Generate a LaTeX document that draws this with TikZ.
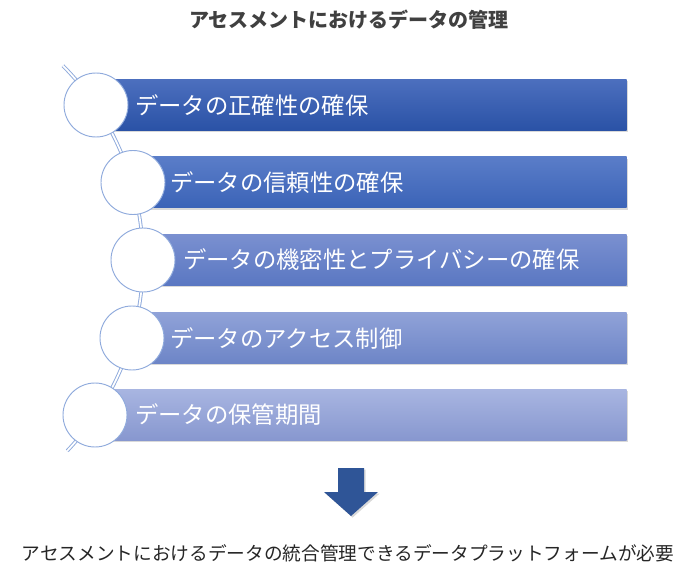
\documentclass[tikz,border=0pt]{standalone}
\usepackage{fontspec}
\setmainfont{Noto Sans CJK JP}
\usepackage{xcolor}
\usetikzlibrary{shadows}

\definecolor{spineblue}{HTML}{8FAADC}
\definecolor{titlegray}{HTML}{404040}
\definecolor{arrowblue}{HTML}{2F5597}
\definecolor{barAtop}{HTML}{4C6FBE}
\definecolor{barAbot}{HTML}{2A52A6}
\definecolor{barBtop}{HTML}{5A7DC8}
\definecolor{barBbot}{HTML}{3B63B7}
\definecolor{barCtop}{HTML}{7A90D0}
\definecolor{barCbot}{HTML}{5A77C2}
\definecolor{barDtop}{HTML}{90A2D8}
\definecolor{barDbot}{HTML}{6D85C7}
\definecolor{barEtop}{HTML}{A8B5E1}
\definecolor{barEbot}{HTML}{8797CF}

\begin{document}
\begin{tikzpicture}[x=0.75pt, y=-0.75pt]
\tikzstyle{bar} = [rectangle, inner sep=0pt, minimum height=38.25pt, drop shadow={opacity=0.3, shadow xshift=1.2pt, shadow yshift=-1.2pt}]
\tikzstyle{disc} = [circle, draw=spineblue, line width=0.7pt, fill=white, minimum size=48pt, inner sep=0pt]
\tikzstyle{bartext} = [text=white, font=\fontsize{17.5}{20}\selectfont, anchor=west, inner sep=0pt]
\tikzstyle{spine} = [draw=spineblue, double=white, line width=0.7pt, double distance=1.3pt]

\useasboundingbox (0,0) rectangle (697,574);

\node[font=\bfseries\fontsize{15}{18}\selectfont, text=titlegray] (title) at (349,20) {アセスメントにおけるデータの管理};

% spine behind the circles
\coordinate (hub) at (-134,260.5);
\draw[spine] (hub) ++(-44.7:277) arc[start angle=-44.7, end angle=43.4, radius=277];

\foreach \cy/\cx/\tx/\ctop/\cbot/\txt [count=\i] in {
  105/96/135/barAtop/barAbot/データの正確性の確保,
  182.5/133/170/barBtop/barBbot/データの信頼性の確保,
  260/143/183/barCtop/barCbot/データの機密性とプライバシーの確保,
  338/132/170/barDtop/barDbot/データのアクセス制御,
  415/95/135/barEtop/barEbot/データの保管期間}
{
  \pgfmathsetmacro\bw{(627-\cx)*0.75}
  \node[bar, top color=\ctop, bottom color=\cbot, minimum width=\bw pt, anchor=east] (bar\i) at (627,\cy) {};
  \node[disc] (disc\i) at (\cx,\cy) {};
  \node[bartext] (text\i) at (\tx,\cy) {\txt};
}

% block arrow
\fill[arrowblue, drop shadow={opacity=0.3, shadow xshift=1.2pt, shadow yshift=-1.2pt}]
  (338,468) -- (364,468) -- (364,492) -- (378,492) -- (351,516) -- (324,492) -- (338,492) -- cycle;

\node[font=\fontsize{14}{16}\selectfont, text=black!85] (need) at (348,553) {アセスメントにおけるデータの統合管理できるデータプラットフォームが必要};
\end{tikzpicture}
\end{document}
